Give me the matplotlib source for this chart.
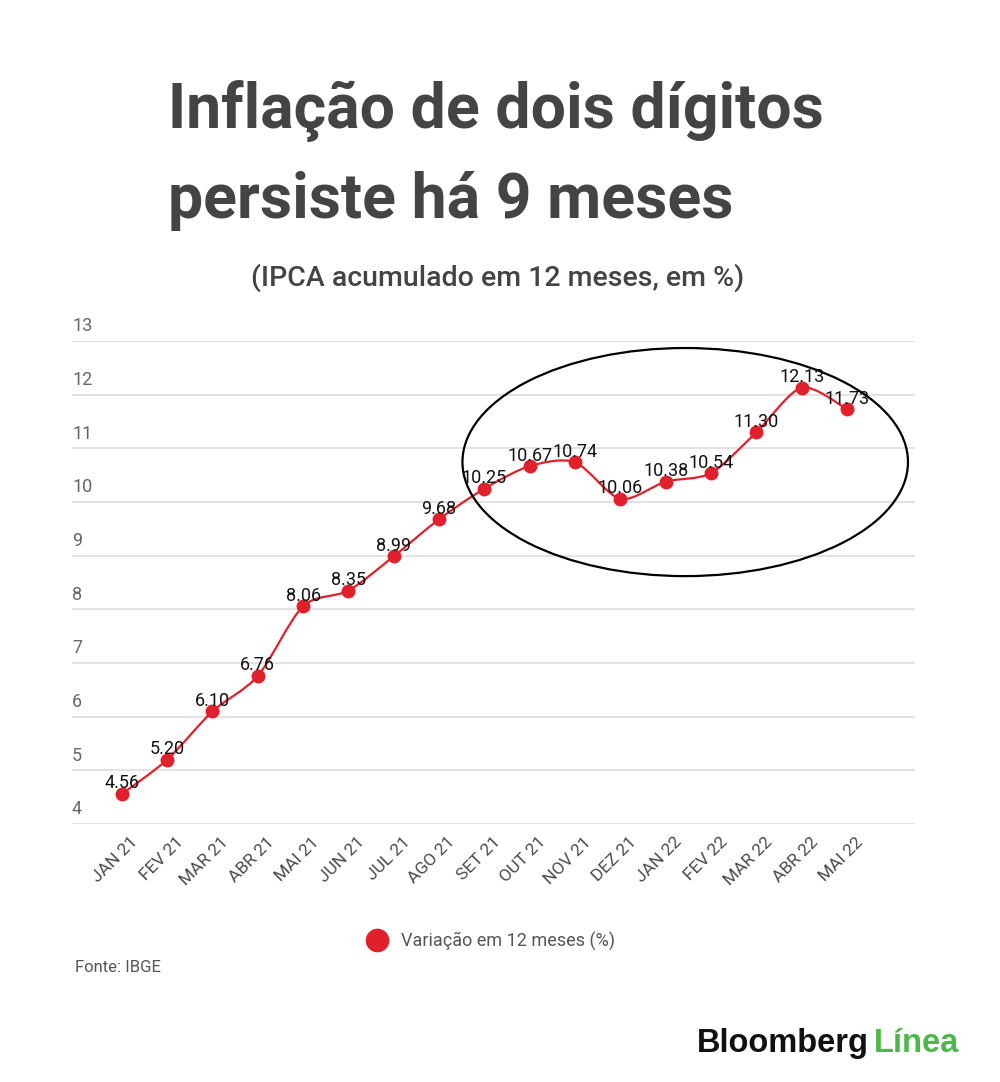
import numpy as np
import matplotlib
matplotlib.use("Agg")
import matplotlib.pyplot as plt
from matplotlib.path import Path
from matplotlib.patches import PathPatch, Ellipse
from matplotlib.lines import Line2D
import matplotlib.transforms as mtransforms

plt.rcParams['font.family'] = ['Roboto', 'DejaVu Sans']

months = ["JAN 21", "FEV 21", "MAR 21", "ABR 21", "MAI 21", "JUN 21", "JUL 21",
          "AGO 21", "SET 21", "OUT 21", "NOV 21", "DEZ 21", "JAN 22", "FEV 22",
          "MAR 22", "ABR 22", "MAI 22"]
ipca = [4.56, 5.20, 6.10, 6.76, 8.06, 8.35, 8.99, 9.68, 10.25, 10.67, 10.74,
        10.06, 10.38, 10.54, 11.30, 12.13, 11.73]
yticks = [4, 5, 6, 7, 8, 9, 10, 11, 12, 13]

RED = "#e0202b"
GRAY = "#555555"

fig = plt.figure(figsize=(10, 10.82), dpi=100)
ax = fig.add_axes([0.072, 0.2384, 0.843, 0.4464])

x = np.arange(len(ipca))
y = np.array(ipca)

# smooth line: catmull-rom -> bezier segments through the points
k = 0.14
verts = [(x[0], y[0])]
codes = [Path.MOVETO]
for i in range(len(x) - 1):
    p0 = (x[max(i - 1, 0)], y[max(i - 1, 0)])
    p1 = (x[i], y[i])
    p2 = (x[i + 1], y[i + 1])
    p3 = (x[min(i + 2, len(x) - 1)], y[min(i + 2, len(x) - 1)])
    c1 = (p1[0] + (p2[0] - p0[0]) * k, p1[1] + (p2[1] - p0[1]) * k)
    c2 = (p2[0] - (p3[0] - p1[0]) * k, p2[1] - (p3[1] - p1[1]) * k)
    verts += [c1, c2, p2]
    codes += [Path.CURVE4] * 3
ax.add_patch(PathPatch(Path(verts, codes), fill=False, edgecolor=RED, lw=1.6, zorder=3))
ax.plot(x, y, 'o', color=RED, markersize=9, zorder=4)

for xi, yi in zip(x, y):
    ax.annotate(f"{yi:.2f}", (xi, yi), xytext=(0, 4), textcoords="offset points",
                ha="center", va="baseline", fontsize=13, color="#111111", zorder=5)

ax.add_patch(Ellipse((12.43, 10.745), 9.83, 4.25, fill=False, edgecolor="black",
                     lw=1.6, clip_on=False, zorder=6))

ax.set_xlim(-1.1, 17.5)
ax.set_ylim(4, 13)
ax.set_yticks(yticks)
ax.yaxis.grid(True, color="#dddddd", lw=1.2)
ax.set_axisbelow(True)
for s in ax.spines.values():
    s.set_visible(False)
ax.tick_params(axis="both", length=0)
ax.set_yticklabels([])
trans = mtransforms.blended_transform_factory(ax.transAxes, ax.transData)
for v in yticks:
    ax.annotate(str(v), (0, v), xycoords=trans, xytext=(0, 4), textcoords="offset points",
                ha="left", va="bottom", fontsize=13, color="#666666")

ax.set_xticks(x)
ax.set_xticklabels(months, rotation=45, ha="right", rotation_mode="anchor",
                   fontsize=12.5, color="#4a4a4a")
offset = mtransforms.ScaledTranslation(6 / 72, -4 / 72, fig.dpi_scale_trans)
for lab in ax.get_xticklabels():
    lab.set_transform(lab.get_transform() + offset)

fig.text(0.168, 1 - 128 / 1082, "Inflação de dois dígitos", fontsize=45,
         fontweight="bold", color="#444444", va="baseline", ha="left")
fig.text(0.168, 1 - 218 / 1082, "persiste há 9 meses", fontsize=45,
         fontweight="bold", color="#444444", va="baseline", ha="left")
fig.text(0.498, 1 - 286 / 1082, "(IPCA acumulado em 12 meses, em %)", fontsize=20.5,
         fontweight="medium", color="#444444", va="baseline", ha="center")

handle = Line2D([], [], marker="o", color=RED, linestyle="none", markersize=16)
fig.legend([handle], ["Variação em 12 meses (%)"], loc="center",
           bbox_to_anchor=(0.487, 1 - 941 / 1082), frameon=False, fontsize=13,
           labelcolor=GRAY, handletextpad=0.3)

fig.text(0.075, 1 - 968 / 1082, "Fonte: IBGE", fontsize=12, color=GRAY,
         va="center", ha="left")

t1 = fig.text(0.697, 1 - 1052 / 1082, "Bloomberg", fontsize=23.5, fontweight="bold",
              family="Liberation Sans", color="#111111", va="baseline", ha="left")
fig.text(0.874, 1 - 1052 / 1082, "Línea", fontsize=23.5, fontweight="bold",
         family="Liberation Sans", color="#4cb848", va="baseline", ha="left")

fig.savefig("out.png", dpi=100, facecolor="white")
